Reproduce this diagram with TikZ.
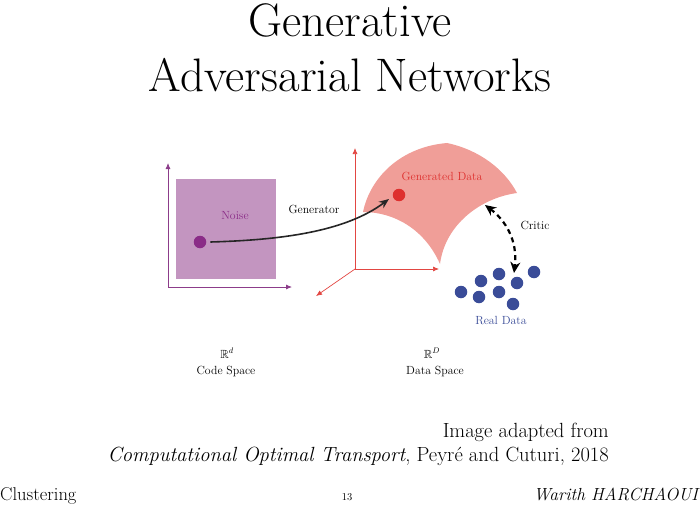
\documentclass[tikz,border=0pt]{standalone}
\usepackage{amssymb}
\usetikzlibrary{arrows.meta}
\definecolor{sqpurple}{RGB}{195,149,192}
\definecolor{dkpurple}{RGB}{138,44,135}
\definecolor{axpurple}{RGB}{140,60,138}
\definecolor{surfred}{RGB}{240,158,152}
\definecolor{dotred}{RGB}{222,48,46}
\definecolor{axred}{RGB}{226,70,66}
\definecolor{dotblue}{RGB}{58,76,152}
\tikzset{
  lbl/.style={font=\fontsize{11.8}{14}\selectfont, inner sep=0pt},
  paxis/.style={draw=axpurple, line width=0.8pt, -{Latex[length=6pt,width=5pt]}},
  raxis/.style={draw=axred, line width=0.7pt, -{Latex[length=6pt,width=5pt]}},
  bdot/.style={circle, fill=dotblue, minimum size=12.5pt, inner sep=0pt},
}
\begin{document}
\begin{tikzpicture}[x=1pt,y=-1pt]
\useasboundingbox (0,0) rectangle (700,505);
% title
\node[anchor=base, inner sep=0pt, font=\fontsize{47}{54}\selectfont] (t1) at (350,37) {Generative};
\node[anchor=base, inner sep=0pt, font=\fontsize{47}{54}\selectfont] (t2) at (350,92) {Adversarial Networks};
% code space
\fill[sqpurple] (176,179) rectangle (276,279);
\coordinate (po) at (168,287);
\coordinate (py) at (168,163);
\coordinate (px) at (292,287);
\draw[paxis] (po) -- (py);
\draw[paxis] (po) -- (px);
\node[lbl, text=dkpurple, anchor=base] (noise) at (235,219) {Noise};
\node[circle, fill=dkpurple, minimum size=12.5pt, inner sep=0pt] (z) at (200,242) {};
% data space axes
\coordinate (ro) at (355,269);
\coordinate (ry) at (355,148);
\coordinate (rx) at (439,269);
\coordinate (rz) at (316,296);
\draw[raxis] (ro) -- (ry);
\draw[raxis] (ro) -- (rx);
\draw[raxis] (ro) -- (rz);
% surface
\fill[surfred] (363,212)
  .. controls (370,178) and (400,147) .. (447,143)
  .. controls (480,150) and (505,170) .. (517,193)
  .. controls (480,198) and (445,225) .. (440,264)
  .. controls (425,230) and (395,212) .. (363,212) -- cycle;
\node[lbl, text=dotred, anchor=base] (gdl) at (442,180) {Generated Data};
\node[circle, fill=dotred, minimum size=12.5pt, inner sep=0pt] (gd) at (399,195) {};
% generator arrow
\draw[line width=1.6pt, black!85, -{Stealth[length=10pt,width=8pt]}] ([xshift=4pt]z.east) .. controls (280,240) and (345,232) .. (389,199);
\node[lbl, anchor=base] (gen) at (314,213) {Generator};
% real data
\node[bdot] (b1) at (461,292) {};
\node[bdot] (b2) at (481,281) {};
\node[bdot] (b3) at (499,274) {};
\node[bdot] (b4) at (479,297) {};
\node[bdot] (b5) at (499,292) {};
\node[bdot] (b6) at (517,283) {};
\node[bdot] (b7) at (534,272) {};
\node[bdot] (b8) at (513,304) {};
\node[lbl, text=dotblue, anchor=base] (rdl) at (501,324) {Real Data};
% critic
\coordinate (c1) at (485,205);
\coordinate (c2) at (514,273);
\draw[line width=2.2pt, dashed, dash pattern=on 5pt off 4pt, {Stealth[length=11pt,width=10pt]}-{Stealth[length=11pt,width=10pt]}] (c1) .. controls (505,220) and (518,240) .. (c2);
\node[lbl, anchor=base] (crit) at (535,229) {Critic};
% space labels
\node[lbl, anchor=base] (rd) at (227,358) {$\mathbb{R}^d$};
\node[lbl, anchor=base] (cs) at (226,374) {Code Space};
\node[lbl, anchor=base] (rD) at (432,358) {$\mathbb{R}^D$};
\node[lbl, anchor=base] (ds) at (435,374) {Data Space};
% citation
\node[anchor=base east, inner sep=0pt, font=\fontsize{20.5}{24}\selectfont] (c1t) at (609,437) {Image adapted from};
\node[anchor=base east, inner sep=0pt, font=\fontsize{20.5}{24}\selectfont] (c2t) at (609,461) {\textit{Computational Optimal Transport}, Peyré and Cuturi, 2018};
% footer
\node[anchor=base west, inner sep=0pt, font=\fontsize{18.5}{22}\selectfont] (fl) at (0,500) {Clustering};
\node[anchor=base, inner sep=0pt, font=\fontsize{10.5}{12}\selectfont] (fc) at (347,500) {13};
\node[anchor=base east, inner sep=0pt, font=\fontsize{17.5}{21}\selectfont] (fr) at (700,500) {\textit{Warith HARCHAOUI}};
\end{tikzpicture}
\end{document}
